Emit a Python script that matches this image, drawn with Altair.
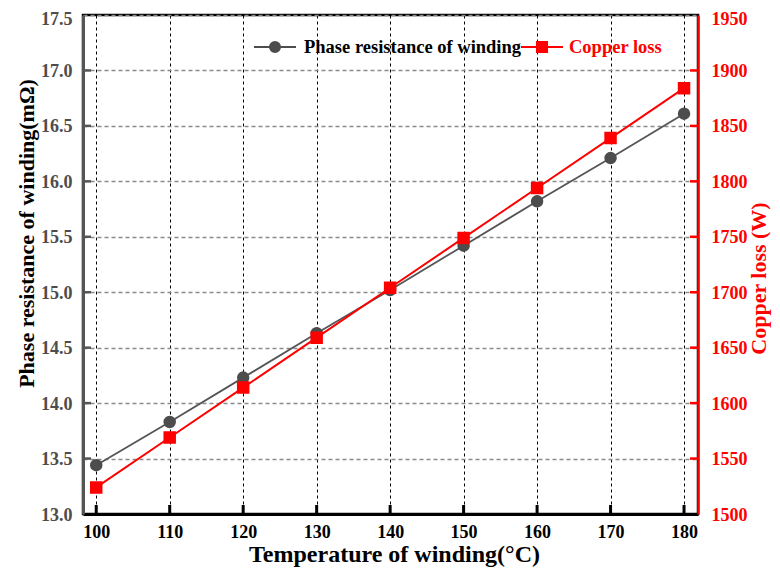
import altair as alt
import pandas as pd

# ---- data ----
temps = [100, 110, 120, 130, 140, 150, 160, 170, 180]
resistance = [13.44, 13.83, 14.23, 14.63, 15.02, 15.42, 15.82, 16.21, 16.61]
copper_loss = [1524, 1569, 1614, 1659, 1704, 1749, 1794, 1839, 1884]

x_ticks = [100, 110, 120, 130, 140, 150, 160, 170, 180]
left_labels = [13.0, 13.5, 14.0, 14.5, 15.0, 15.5, 16.0, 16.5, 17.0, 17.5]
right_labels = [1500, 1550, 1600, 1650, 1700, 1750, 1800, 1850, 1900, 1950]
left_ticks = [13.5, 14.0, 14.5, 15.0, 15.5, 16.0, 16.5, 17.0]
right_ticks = [1550, 1600, 1650, 1700, 1750, 1800, 1850, 1900]

series_res = "Phase resistance of winding"
series_cu = "Copper loss"

FONT = "Liberation Serif"
W, H = 615, 499
GRAY = "#4d4d4d"
RED = "#ff0000"

res_df = pd.DataFrame({"temp": temps, "value": resistance, "series": series_res})
cu_df = pd.DataFrame({"temp": temps, "value": copper_loss, "series": series_cu})
xt_df = pd.DataFrame({"temp": x_ticks})
lt_df = pd.DataFrame({"value": left_ticks})
rt_df = pd.DataFrame({"value": right_ticks})

x_scale = alt.Scale(domain=[98.2, 181.9], nice=False, zero=False)
yl_scale = alt.Scale(domain=[13.0, 17.5], nice=False, zero=False)
yr_scale = alt.Scale(domain=[1500, 1950], nice=False, zero=False)

x_axis = alt.Axis(
    values=x_ticks, format="d", title="Temperature of winding(°C)",
    labelFont=FONT, labelFontSize=18, labelFontWeight="bold", labelColor="black",
    labelPadding=9, labelFlush=False,
    ticks=False, tickSize=0,
    domainColor="black", domainWidth=3,
    grid=True, gridColor="black", gridDash=[3, 3], gridWidth=1,
    titleFont=FONT, titleFontSize=24, titleFontWeight="bold", titleColor="black",
    titleX=311, titleY=47, titleBaseline="alphabetic", titleAlign="center",
)

yl_axis = alt.Axis(
    orient="left", values=left_labels, format=".1f",
    title="Phase resistance of winding(mΩ)",
    labelFont=FONT, labelFontSize=18, labelFontWeight="bold", labelColor=GRAY,
    labelPadding=11, labelFlush=False,
    labelBaseline="alphabetic",
    labelOffset={"condition": {"test": "datum.value >= 17.5", "value": 9}, "value": 6},
    ticks=False, tickSize=0,
    domainColor="#555555", domainWidth=3,
    grid=True, gridColor="#8a8a8a", gridDash=[4, 3], gridWidth=1.3,
    titleFont=FONT, titleFontSize=22, titleFontWeight="bold", titleColor="black",
    titleAngle=270, titleX=-57, titleY=218, titleBaseline="middle", titleAlign="center",
)

yr_axis = alt.Axis(
    orient="right", values=right_labels, format="d",
    title="Copper loss (W)",
    labelFont=FONT, labelFontSize=18, labelFontWeight="bold", labelColor=RED,
    labelPadding=13, labelFlush=False,
    labelBaseline="alphabetic",
    labelOffset={"condition": {"test": "datum.value >= 1950", "value": 9}, "value": 6},
    ticks=False, tickSize=0,
    domainColor=RED, domainWidth=2.5,
    grid=False,
    titleFont=FONT, titleFontSize=22, titleFontWeight="bold", titleColor=RED,
    titleAngle=270, titleX=60, titleY=263, titleBaseline="middle", titleAlign="center",
)

circle_path = "M-1,0L1,0M-0.24,0A0.24,0.24,0,1,1,0.24,0A0.24,0.24,0,1,1,-0.24,0Z"
square_path = "M-1,0L1,0M-0.24,-0.24L0.24,-0.24L0.24,0.24L-0.24,0.24Z"

leg_res = alt.Legend(
    title=None, orient="none", legendX=170, legendY=10, padding=0,
    symbolType=circle_path, symbolSize=1764, symbolStrokeWidth=2,
    labelFont=FONT, labelFontSize=18.5, labelFontWeight="bold", labelColor="black",
    labelOffset=7, labelLimit=500,
)
leg_cu = alt.Legend(
    title=None, orient="none", legendX=437, legendY=10, padding=0,
    symbolType=square_path, symbolSize=1764, symbolStrokeWidth=2,
    labelFont=FONT, labelFontSize=18.5, labelFontWeight="bold", labelColor=RED,
    labelOffset=5, labelLimit=500,
)

res_color = alt.Scale(domain=[series_res], range=[GRAY])
cu_color = alt.Scale(domain=[series_cu], range=[RED])

X = alt.X("temp:Q", scale=x_scale, axis=x_axis)
YL = alt.Y("value:Q", scale=yl_scale, axis=yl_axis)
YR = alt.Y("value:Q", scale=yr_scale, axis=yr_axis)

# ---- left (resistance) group ----
res_line = alt.Chart(res_df).mark_line(color="#555555", strokeWidth=1.8).encode(x=X, y=YL)
res_pts = alt.Chart(res_df).mark_point(filled=True, shape="circle", size=110, opacity=1).encode(
    x=X, y=YL,
    color=alt.Color("series:N", scale=res_color, legend=leg_res),
    stroke=alt.Stroke("series:N", scale=res_color, legend=leg_res),
)
x_tick_rules = alt.Chart(xt_df).mark_rule(color="black", strokeWidth=3).encode(
    x=X, y=alt.value(H), y2=alt.value(H - 9),
)
left_tick_rules = alt.Chart(lt_df).mark_rule(color="#555555", strokeWidth=2.5).encode(
    y=YL, x=alt.value(0), x2=alt.value(8),
)
left = alt.layer(res_line, res_pts, x_tick_rules, left_tick_rules)

# ---- right (copper loss) group ----
cu_line = alt.Chart(cu_df).mark_line(color=RED, strokeWidth=2).encode(x=X, y=YR)
cu_pts = alt.Chart(cu_df).mark_point(filled=True, shape="square", size=110, opacity=1).encode(
    x=X, y=YR,
    color=alt.Color("series:N", scale=cu_color, legend=leg_cu),
    stroke=alt.Stroke("series:N", scale=cu_color, legend=leg_cu),
)
right_tick_rules = alt.Chart(rt_df).mark_rule(color=RED, strokeWidth=2.5).encode(
    y=YR, x=alt.value(W - 8), x2=alt.value(W),
)
right = alt.layer(cu_line, cu_pts, right_tick_rules)

chart = (
    alt.layer(left, right)
    .resolve_scale(y="independent", color="independent", stroke="independent")
    .properties(
        width=W, height=H,
        autosize=alt.AutoSizeParams(type="none"),
        padding={"left": 75, "top": 7, "right": 74, "bottom": 54},
        background="white",
    )
    .configure_view(stroke="black", strokeWidth=2.5)
)

chart.save("out.html", embed_options={"renderer": "svg", "actions": False})
